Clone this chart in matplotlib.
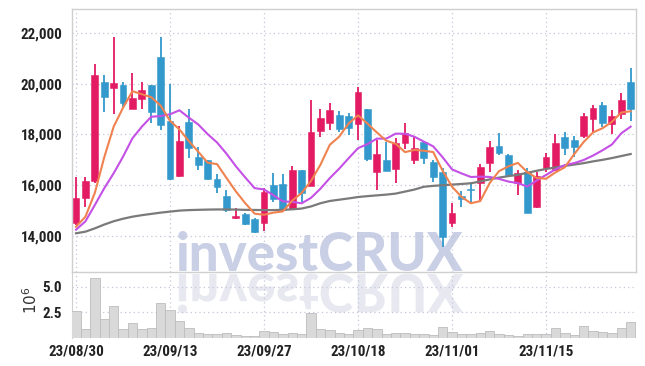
import matplotlib
matplotlib.use('Agg')
import matplotlib.pyplot as plt
import numpy as np
import pandas as pd
from matplotlib.textpath import TextPath
from matplotlib.patches import PathPatch
from matplotlib.font_manager import FontProperties
from matplotlib.transforms import Affine2D, IdentityTransform
import logging
logging.getLogger('matplotlib.font_manager').setLevel(logging.ERROR)

# ---------------- data ----------------
opens = [14500, 15490, 16150, 20080, 19850, 19950, 18990, 19400, 19950, 21070,
         18530, 16360, 18500, 17130, 17000, 16250, 15580, 14710, 14870, 14660,
         14530, 16010, 16050, 15050, 16600, 15980, 18150, 18440, 18770, 18730,
         18400, 18990, 16540, 17000, 16630, 17650, 17000, 17720, 16930, 16540,
         14500, 15580, 15830, 16080, 16860, 17550, 17190, 16080, 16540, 15130,
         16670, 16600, 17910, 17780, 17940, 18600, 19160, 18410, 18810, 20080]
highs = [16330, 16340, 20770, 20340, 21830, 20060, 20410, 20050, 19960, 21830,
         19990, 18340, 18990, 17520, 17010, 16430, 15810, 15090, 14900, 14720,
         15880, 16470, 16440, 16760, 16610, 19360, 18990, 19230, 18940, 18840,
         19890, 19000, 17780, 17720, 17850, 18470, 17890, 17750, 17000, 16670,
         15290, 15790, 16140, 16840, 17760, 18050, 17230, 16600, 16670, 16530,
         17280, 18020, 18110, 17940, 18840, 19160, 19290, 18970, 19650, 20610]
lows = [14450, 15150, 16100, 18900, 18800, 19070, 18990, 19000, 18440, 18180,
        16200, 16330, 17060, 16600, 16200, 15680, 14960, 14660, 14450, 14100,
        14210, 15350, 15000, 15030, 15350, 15950, 17910, 18180, 18110, 17980,
        17780, 16960, 15810, 16560, 16100, 17420, 16840, 16840, 16140, 13560,
        14370, 15130, 15310, 15350, 16540, 17190, 16310, 15620, 14900, 15120,
        16540, 16580, 17190, 17130, 17850, 18110, 18310, 18020, 18600, 18550]
closes = [15490, 16170, 20350, 19490, 20040, 19230, 19430, 19750, 18900, 18380,
          16230, 17740, 17450, 16800, 16230, 15940, 15030, 14790, 14470, 14170,
          15720, 15450, 15030, 16600, 15680, 18090, 18640, 18970, 18200, 18270,
          19690, 17020, 17220, 16580, 17650, 18050, 17460, 17060, 16310, 13970,
          14920, 15450, 15800, 16730, 17520, 17280, 16400, 16470, 14920, 16360,
          17130, 17650, 17480, 17520, 18730, 19030, 18470, 18730, 19360, 18990]
volumes = [2.63, 0.81, 5.87, 1.80, 3.12, 0.81, 1.41, 0.81, 0.91, 3.39,
           2.73, 1.64, 0.91, 0.42, 0.32, 0.36, 0.42, 0.20, 0.10, 0.10,
           0.60, 0.52, 0.33, 0.42, 0.33, 2.40, 0.81, 0.72, 0.48, 0.36,
           0.78, 0.90, 0.81, 0.36, 0.42, 0.42, 0.33, 0.33, 0.24, 1.01,
           0.53, 0.33, 0.33, 0.47, 0.62, 0.36, 0.23, 0.13, 0.33, 0.33,
           0.33, 0.90, 0.42, 0.26, 1.17, 0.62, 0.52, 0.42, 0.90, 1.50]
# moving-average values at the start of the window (need earlier data)
ma5_head = [14366, 14760, 15700, 17100]
ma10_head = [14247, 14576, 15222, 15880, 16470, 17126, 17850, 18307, 18700]
ma_long = [14105, 14170, 14300, 14450, 14580, 14680, 14760, 14820, 14870, 14920,
           14960, 15000, 15020, 15030, 15040, 15045, 15045, 15040, 15030, 15025,
           15020, 15020, 15030, 15050, 15080, 15165, 15290, 15380, 15430, 15480,
           15535, 15570, 15600, 15630, 15670, 15750, 15830, 15940, 15975, 16000,
           16025, 16050, 16076, 16150, 16230, 16300, 16360, 16410, 16490, 16570,
           16640, 16700, 16760, 16815, 16870, 16940, 17000, 17070, 17150, 17230]
tick_pos = [0, 10, 20, 30, 40, 50]
tick_labels = ['23/08/30', '23/09/13', '23/09/27', '23/10/18', '23/11/01', '23/11/15']
price_ticks = [14000, 16000, 18000, 20000, 22000]
vol_ticks = [2.5, 5.0]
watermark = 'investCRUX'

# ---------------- styling ----------------
RED = '#e31b63'
BLUE = '#3399cc'
ORANGE = '#f08250'
PURPLE = '#c450e6'
GRAY = '#7a7a7a'
GRID = '#c3c7da'
SPINE = '#cfcfcf'
TXT = '#222222'
tick_fp = FontProperties(family=['Liberation Sans Narrow', 'Noto Sans Condensed',
                                 'Roboto Condensed', 'Open Sans Condensed',
                                 'Noto Sans', 'DejaVu Sans'],
                         stretch='condensed', weight='bold', size=10.8)

W, H = 645, 366
fig = plt.figure(figsize=(W / 100, H / 100), dpi=100)
fig.patch.set_facecolor('white')

ax = fig.add_axes([72 / W, 1 - 272 / H, (636 - 72) / W, (272 - 9) / H])
axv = fig.add_axes([72 / W, 1 - 337.5 / H, (636 - 72) / W, (337.5 - 272) / H], sharex=ax)
for a in (ax, axv):
    a.set_facecolor('none')

n = len(closes)
x = np.arange(n)
s = pd.Series(closes, dtype=float)
ma5 = list(ma5_head) + list(s.rolling(5).mean().iloc[len(ma5_head):])
ma10 = list(ma10_head) + list(s.rolling(10).mean().iloc[len(ma10_head):])

# candles
for i in x:
    o, h, l, c = opens[i], highs[i], lows[i], closes[i]
    col = RED if c >= o else BLUE
    ax.vlines(i, l, h, color=col, lw=1.3, zorder=3)
    ax.bar(i, max(abs(c - o), 45), bottom=min(o, c), width=0.72, color=col,
           edgecolor=col, lw=0.4, zorder=4)

ax.plot(x, ma_long, color=GRAY, lw=1.6, zorder=5)
ax.plot(x, ma10, color=PURPLE, lw=1.5, zorder=5)
ax.plot(x, ma5, color=ORANGE, lw=1.5, zorder=5)

ax.set_xlim(-0.43, n - 0.43)
ax.set_ylim(12580, 22946)
ax.set_yticks(price_ticks)
ax.set_yticklabels([f'{t:,}' for t in price_ticks])
ax.grid(True, color=GRID, ls=(0, (1, 2.5)), lw=0.9)
ax.set_axisbelow(True)
ax.tick_params(axis='both', length=0)
ax.tick_params(axis='y', pad=7, colors=TXT)
plt.setp(ax.get_xticklabels(), visible=False)
for lab in ax.get_yticklabels():
    lab.set_fontproperties(tick_fp)
for sp in ax.spines.values():
    sp.set_color(SPINE)
    sp.set_linewidth(1.0)

# volume
axv.bar(x, np.array(volumes), width=1.0, color='#d9d9d9', edgecolor='#bdbdbd', lw=0.6, zorder=3)
axv.set_ylim(0, 6.45)
axv.set_yticks(vol_ticks)
axv.set_yticklabels([f'{t:.1f}' for t in vol_ticks])
axv.set_xticks(tick_pos)
axv.set_xticklabels(tick_labels)
axv.grid(True, color=GRID, ls=(0, (1, 2.5)), lw=0.9)
axv.set_axisbelow(True)
axv.tick_params(axis='both', length=0, colors=TXT)
axv.tick_params(axis='y', pad=7)
axv.tick_params(axis='x', pad=5)
for lab in axv.get_yticklabels() + axv.get_xticklabels():
    lab.set_fontproperties(tick_fp)
axv.spines['top'].set_visible(False)
axv.spines['right'].set_visible(False)
axv.spines['bottom'].set_visible(False)
axv.spines['left'].set_color(SPINE)

fig.text(31 / W, 1 - 300 / H, r'$10^6$', rotation=90, ha='center', va='center',
         fontsize=11, color='#333333')

# watermark (real text) with a mirrored reflection drawn as a path
wm_fp = FontProperties(family=['Lato', 'Liberation Sans', 'DejaVu Sans'], weight=900)
tp = TextPath((0, 0), watermark, size=1, prop=wm_fp)
bb = tp.get_extents()
x0, x1 = 178, 463
base = 271
em_px = (x1 - x0) / bb.width
fs = em_px * 72 / 100
fig.text((x0 - bb.x0 * em_px) / W, (H - base) / H, watermark, fontproperties=wm_fp,
         fontsize=fs, color='#c9cfe5', ha='left', va='baseline', zorder=-1)
tr2 = Affine2D().translate(-bb.x0, 0).scale(em_px, -em_px).translate(x0, H - 274)
wm2 = PathPatch(tr2.transform_path(tp), facecolor='#e8e8f1', edgecolor='none',
                transform=IdentityTransform(), zorder=-1)
fig.add_artist(wm2)

fig.savefig('out.png', dpi=100, facecolor='white')
